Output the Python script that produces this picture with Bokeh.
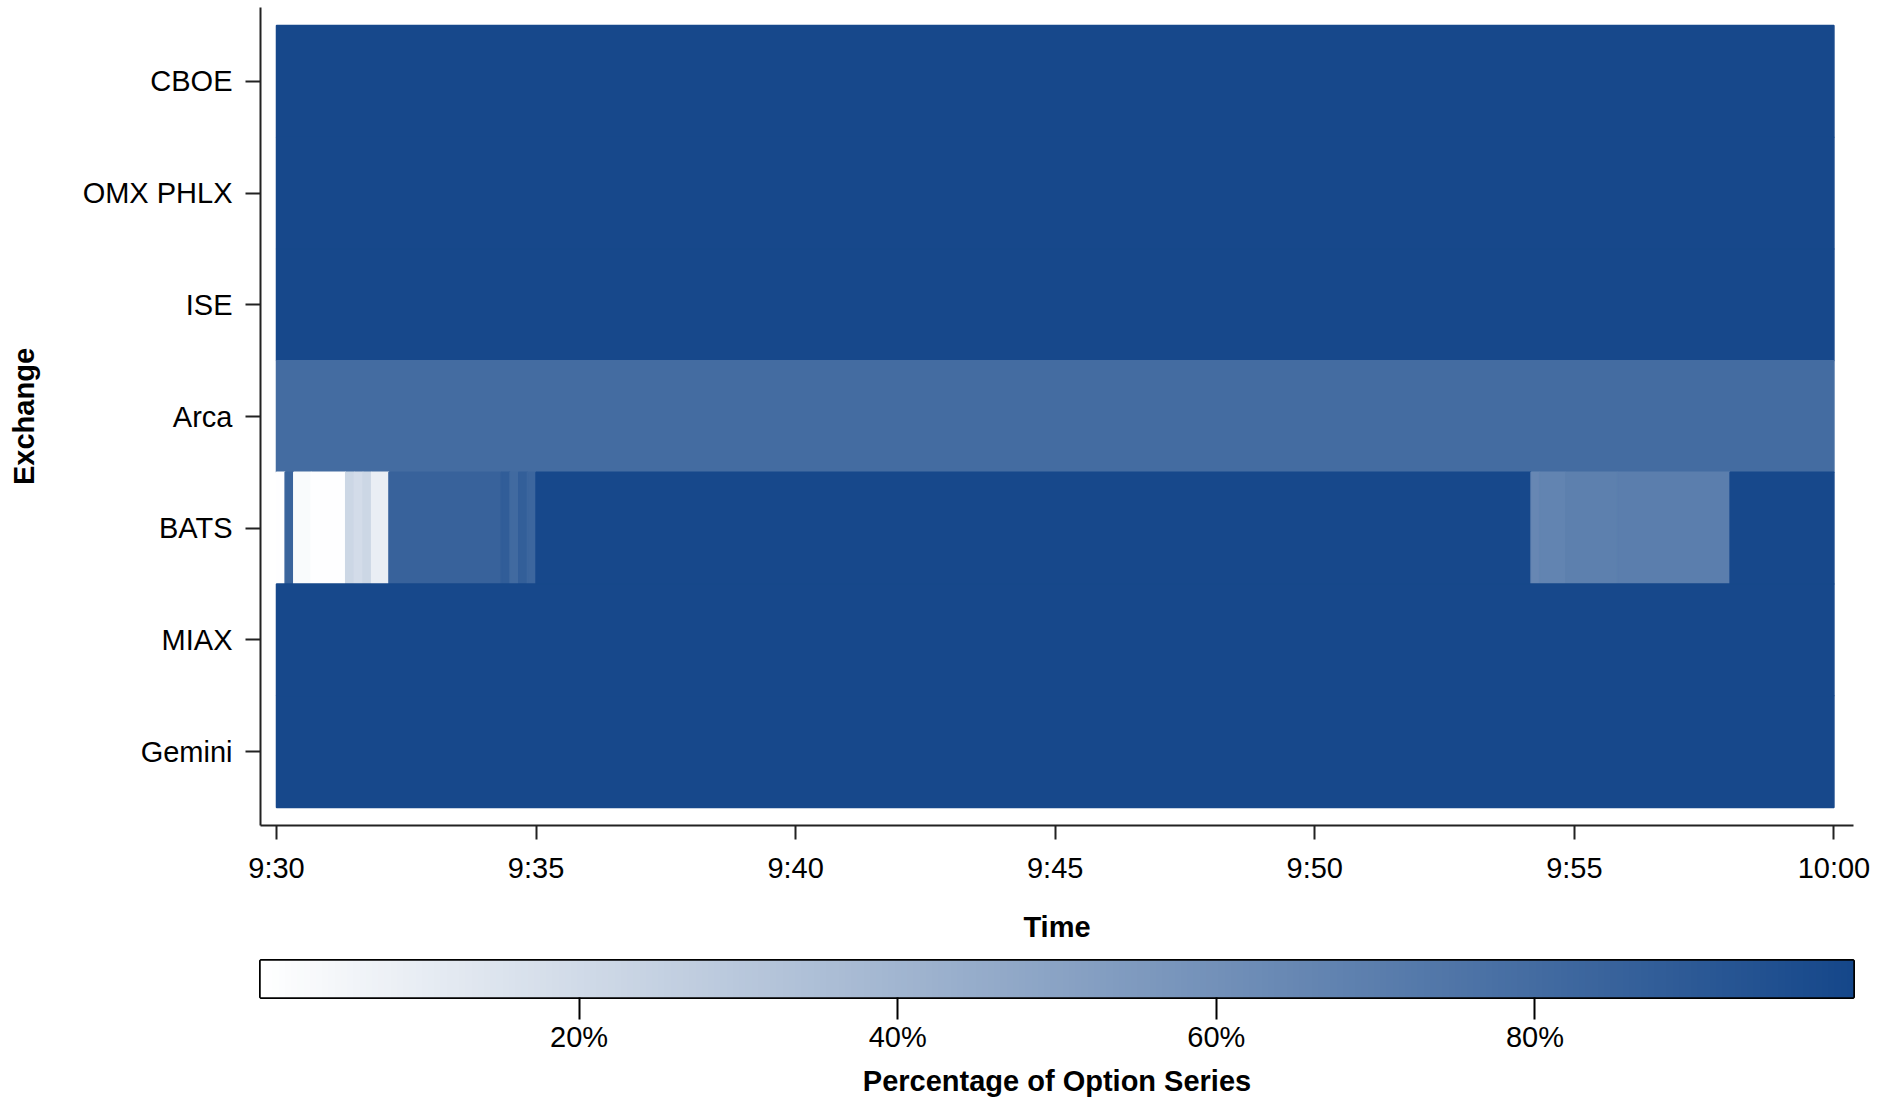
from bokeh.plotting import figure
from bokeh.models import FactorRange, Range1d, LinearColorMapper, FixedTicker, ColumnDataSource
from bokeh.layouts import column
from bokeh.embed import file_html
from bokeh.resources import INLINE
import numpy as np

# ---------------- data ----------------
exchanges = ["CBOE", "OMX PHLX", "ISE", "Arca", "BATS", "MIAX", "Gemini"]
time_ticks = [0, 5, 10, 15, 20, 25, 30]          # minutes after 9:30
time_labels = ["9:30", "9:35", "9:40", "9:45", "9:50", "9:55", "10:00"]
pct_ticks = [20, 40, 60, 80]
pct_labels = ["20%", "40%", "60%", "80%"]

# heat-map segments (10-second bins merged where equal); seconds after 9:30
seg_exchange = (["CBOE", "OMX PHLX", "ISE", "Arca"]
                + ["BATS"] * 19
                + ["MIAX", "Gemini"])
seg_start = ([0, 0, 0, 0]
             + [0, 10, 20, 40, 80, 90, 100, 110, 130, 260, 270, 280, 290, 300,
                1450, 1460, 1490, 1550, 1680]
             + [0, 0])
seg_end = ([1800, 1800, 1800, 1800]
           + [10, 20, 40, 80, 90, 100, 110, 130, 260, 270, 280, 290, 300, 1450,
              1460, 1490, 1550, 1680, 1800]
           + [1800, 1800])
seg_pct = ([99, 99, 99, 80]
           + [0.5, 84, 2.5, 0.5, 22, 19, 22, 9, 85, 88, 81, 87, 83, 99,
              65, 67, 69, 70, 99]
           + [99, 99])

# ---------------- styling helpers ----------------
FONT = "Liberation Sans"
FS = "29px"
c0 = np.array([255, 255, 255])
c1 = np.array([21, 71, 138])
palette = ["#%02x%02x%02x" % tuple(np.round(c0 + (c1 - c0) * t).astype(int))
           for t in np.linspace(0, 1, 256)]
mapper = LinearColorMapper(palette=palette, low=0, high=100)

src = ColumnDataSource(dict(
    x=[(a + b) / 2 / 60 for a, b in zip(seg_start, seg_end)],
    w=[(b - a) / 60 for a, b in zip(seg_start, seg_end)],
    y=seg_exchange,
    pct=seg_pct,
))

p = figure(width=1890, height=945,
           x_range=Range1d(-0.308, 30.377),
           y_range=FactorRange(factors=exchanges[::-1], range_padding=0.16,
                               range_padding_units="absolute"),
           output_backend="svg", toolbar_location=None,
           min_border_left=260, min_border_right=35,
           min_border_top=7, min_border_bottom=120)
p.rect(x="x", y="y", width="w", height=1, source=src,
       fill_color={"field": "pct", "transform": mapper},
       line_color={"field": "pct", "transform": mapper}, line_width=1.5)

p.grid.visible = False
p.outline_line_color = None
for ax in (p.xaxis[0], p.yaxis[0]):
    ax.axis_line_width = 2
    ax.axis_line_color = "#222222"
    ax.major_tick_line_width = 2
    ax.major_tick_line_color = "#222222"
    ax.major_tick_out = 14
    ax.major_tick_in = 0
    ax.minor_tick_line_color = None
    ax.major_label_text_font = FONT
    ax.major_label_text_font_size = FS
    ax.major_label_text_color = "black"
    ax.axis_label_text_font = FONT
    ax.axis_label_text_font_size = FS
    ax.axis_label_text_font_style = "bold"
    ax.axis_label_text_color = "black"

p.xaxis.ticker = FixedTicker(ticks=time_ticks)
p.xaxis.major_label_overrides = dict(zip(time_ticks, time_labels))
p.xaxis.axis_label = "Time"
p.xaxis.major_label_standoff = 12
p.xaxis.axis_label_standoff = 24
p.yaxis.axis_label = "Exchange"
p.yaxis.major_tick_out = 15
p.yaxis.major_label_standoff = 13
p.yaxis.axis_label_standoff = 40

# ---------------- colour bar ----------------
grad = np.linspace(0, 100, 1024).reshape(1, -1)
cb = figure(width=1890, height=154,
            x_range=Range1d(0, 100), y_range=Range1d(0, 1),
            output_backend="svg", toolbar_location=None,
            min_border_left=260, min_border_right=37,
            min_border_top=15, min_border_bottom=102)
cb.image(image=[grad], x=0, y=0, dw=100, dh=1, color_mapper=mapper)
cb.grid.visible = False
cb.yaxis.visible = False
cb.outline_line_color = "black"
cb.outline_line_width = 3
cax = cb.xaxis[0]
cax.ticker = FixedTicker(ticks=pct_ticks)
cax.major_label_overrides = dict(zip(pct_ticks, pct_labels))
cax.axis_line_color = None
cax.major_tick_line_width = 2
cax.major_tick_line_color = "black"
cax.major_tick_out = 22
cax.major_tick_in = 0
cax.minor_tick_line_color = None
cax.major_label_text_font = FONT
cax.major_label_text_font_size = FS
cax.major_label_text_color = "black"
cax.major_label_standoff = 1
cax.axis_label = "Percentage of Option Series"
cax.axis_label_text_font = FONT
cax.axis_label_text_font_size = FS
cax.axis_label_text_font_style = "bold"
cax.axis_label_text_color = "black"
cax.axis_label_standoff = 9

layout = column(p, cb)
open("out.html", "w").write(file_html(layout, INLINE))
